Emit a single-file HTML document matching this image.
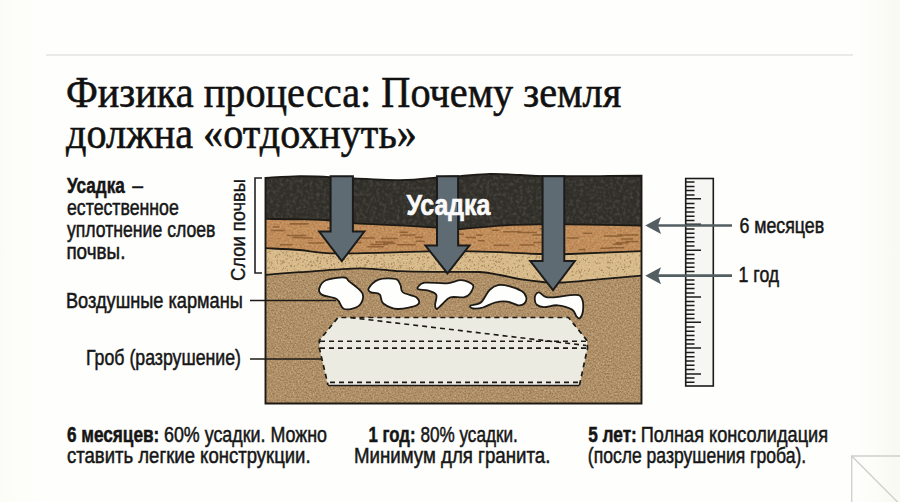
<!DOCTYPE html>
<html><head><meta charset="utf-8"><style>
html,body{margin:0;padding:0;width:900px;height:502px;overflow:hidden;background:#fcfcfa;}
svg{display:block;}
</style></head><body>
<svg width="900" height="502" viewBox="0 0 900 502">
<defs>
  <linearGradient id="bg" x1="0" y1="0" x2="1" y2="0">
    <stop offset="0" stop-color="#fcfcf7"/>
    <stop offset="0.05" stop-color="#fefefc"/>
    <stop offset="0.95" stop-color="#fefefc"/>
    <stop offset="1" stop-color="#f9f9f3"/>
  </linearGradient>
  <filter color-interpolation-filters="sRGB" id="texDark" x="0" y="0" width="100%" height="100%">
    <feTurbulence type="fractalNoise" baseFrequency="0.3" numOctaves="3" seed="3" result="n"/>
    <feColorMatrix in="n" type="matrix" values="0 0 0 0 0.38  0 0 0 0 0.37  0 0 0 0 0.33  1.2 0 0 0 -0.5" result="c"/>
    <feComposite in="c" in2="SourceGraphic" operator="in" result="t"/>
    <feMerge><feMergeNode in="SourceGraphic"/><feMergeNode in="t"/></feMerge>
  </filter>
  <filter color-interpolation-filters="sRGB" id="texBrown" x="0" y="0" width="100%" height="100%">
    <feTurbulence type="fractalNoise" baseFrequency="0.6" numOctaves="3" seed="7" result="n"/>
    <feColorMatrix in="n" type="matrix" values="1 0 0 0 0  1 0 0 0 0  1 0 0 0 0  0 0 0 0 0.4" result="g"/>
    <feBlend in="g" in2="SourceGraphic" mode="overlay" result="b"/>
    <feComposite in="b" in2="SourceGraphic" operator="in"/>
  </filter>
  <filter color-interpolation-filters="sRGB" id="texOrange" x="0" y="0" width="100%" height="100%">
    <feTurbulence type="fractalNoise" baseFrequency="0.5" numOctaves="2" seed="21" result="n"/>
    <feColorMatrix in="n" type="matrix" values="1 0 0 0 0  1 0 0 0 0  1 0 0 0 0  0 0 0 0 0.3" result="g"/>
    <feBlend in="g" in2="SourceGraphic" mode="overlay" result="b"/>
    <feComposite in="b" in2="SourceGraphic" operator="in"/>
  </filter>
  <filter color-interpolation-filters="sRGB" id="texSand" x="0" y="0" width="100%" height="100%">
    <feTurbulence type="fractalNoise" baseFrequency="0.6" numOctaves="2" seed="11" result="n"/>
    <feColorMatrix in="n" type="matrix" values="1 0 0 0 0  1 0 0 0 0  1 0 0 0 0  0 0 0 0 0.25" result="g"/>
    <feBlend in="g" in2="SourceGraphic" mode="overlay" result="b"/>
    <feComposite in="b" in2="SourceGraphic" operator="in"/>
  </filter>
</defs>
<rect width="900" height="502" fill="url(#bg)"/>
<line x1="46" y1="55" x2="853" y2="55" stroke="#d6d6d3" stroke-width="1.2"/>

<g transform="translate(244.7 281) rotate(-90)"><text x="0.0" y="0.0" font-family="Liberation Sans" font-size="20" font-weight="normal" fill="#161616" textLength="102.0" lengthAdjust="spacingAndGlyphs" stroke="#161616" stroke-width="0.35">Слои почвы</text></g>
<path d="M262,178 L255,178 L255,273 L262,273" fill="none" stroke="#222" stroke-width="1.6"/>
<g>
<path d="M265.5,262 L641.5,262 L641.5,403.5 L265.5,403.5 Z" fill="#ae8f67" filter="url(#texBrown)"/>
<path d="M265.5,248.2 C271.2,248.5 289.2,249.2 300.0,250.0 C310.8,250.8 313.3,252.9 330.0,253.3 C346.7,253.7 381.7,252.6 400.0,252.2 C418.3,251.8 430.0,251.3 440.0,251.1 C450.0,250.9 450.0,250.9 460.0,251.1 C470.0,251.3 486.5,251.7 500.0,252.2 C513.5,252.7 529.3,253.7 541.0,254.0 C552.7,254.3 553.2,254.5 570.0,254.0 C586.8,253.5 629.6,251.6 641.5,251.1 L641.5,275.6 C636.2,276.1 623.1,277.2 610.0,278.4 C596.9,279.5 574.2,281.9 563.0,282.5 C551.8,283.1 550.2,282.6 543.0,282.0 C535.8,281.4 527.2,280.4 520.0,279.2 C512.8,278.0 506.7,276.2 500.0,275.0 C493.3,273.8 490.0,272.5 480.0,272.0 C470.0,271.5 453.3,272.0 440.0,271.9 C426.7,271.8 413.3,271.8 400.0,271.2 C386.7,270.6 376.7,268.1 360.0,268.3 C343.3,268.5 315.8,271.1 300.0,272.2 C284.2,273.3 271.2,274.4 265.5,274.9 Z" fill="#d8bb8b" filter="url(#texSand)"/>
<path d="M265.5,218.9 C271.2,219.0 289.2,219.0 300.0,219.3 C310.8,219.6 320.8,219.8 330.0,220.5 C339.2,221.2 343.3,222.5 355.0,223.3 C366.7,224.1 385.8,224.6 400.0,225.3 C414.2,226.1 430.0,227.2 440.0,227.8 C450.0,228.4 450.0,229.4 460.0,229.0 C470.0,228.6 486.5,226.4 500.0,225.6 C513.5,224.8 529.3,224.6 541.0,224.4 C552.7,224.2 553.2,224.2 570.0,224.4 C586.8,224.6 629.6,225.4 641.5,225.6 L641.5,251.1 C629.6,251.6 586.8,253.5 570.0,254.0 C553.2,254.5 552.7,254.3 541.0,254.0 C529.3,253.7 513.5,252.7 500.0,252.2 C486.5,251.7 470.0,251.3 460.0,251.1 C450.0,250.9 450.0,250.9 440.0,251.1 C430.0,251.3 418.3,251.8 400.0,252.2 C381.7,252.6 346.7,253.7 330.0,253.3 C313.3,252.9 310.8,250.8 300.0,250.0 C289.2,249.2 271.2,248.5 265.5,248.2 Z" fill="#c08d5b" filter="url(#texOrange)"/>
<path d="M265.5,177.9 C271.2,177.6 289.2,176.2 300.0,176.1 C310.8,176.0 313.3,176.5 330.0,177.2 C346.7,177.9 381.7,180.1 400.0,180.1 C418.3,180.1 430.0,177.9 440.0,177.2 C450.0,176.5 451.7,176.6 460.0,176.1 C468.3,175.6 480.0,174.1 490.0,173.9 C500.0,173.7 510.8,174.6 520.0,175.0 C529.2,175.4 531.7,175.9 545.0,176.1 C558.3,176.3 583.9,176.2 600.0,176.1 C616.1,176.0 634.6,175.8 641.5,175.7 L641.5,225.6 C629.6,225.4 586.8,224.6 570.0,224.4 C553.2,224.2 552.7,224.2 541.0,224.4 C529.3,224.6 513.5,224.8 500.0,225.6 C486.5,226.4 470.0,228.6 460.0,229.0 C450.0,229.4 450.0,228.4 440.0,227.8 C430.0,227.2 414.2,226.1 400.0,225.3 C385.8,224.6 366.7,224.1 355.0,223.3 C343.3,222.5 339.2,221.2 330.0,220.5 C320.8,219.8 310.8,219.6 300.0,219.3 C289.2,219.0 271.2,219.0 265.5,218.9 Z" fill="#302e29" filter="url(#texDark)"/>
<path d="M494.2,245.2h14.6 M609.3,247.8h14.6 M280.4,244.7h11.1 M503.6,231.7h16.7 M438.9,240.6h8.2 M476.6,235.3h5.2 M370.6,244.6h16.9 M327.5,228.0h15.4 M492.3,230.3h6.6 M583.7,233.3h7.7 M623.7,234.9h14.3 M616.1,242.7h12.0 M343.7,242.6h17.2 M618.0,235.1h16.6 M400.0,232.2h7.2 M293.5,237.4h8.9 M271.2,230.6h13.8 M381.6,238.6h15.6 M383.7,243.3h11.3 M290.5,223.7h17.7 M539.9,228.8h16.0 M553.6,241.5h9.8 M273.3,227.1h5.6 M613.9,244.3h7.6 M604.7,236.1h17.2 M397.7,244.7h11.8 M308.9,243.0h14.7 M579.5,249.4h5.5 M302.8,238.0h9.4 M600.5,248.2h9.4 M466.3,237.5h9.1 M333.9,228.7h6.0 M518.1,232.5h18.0 M287.5,235.5h17.8 M416.1,241.3h8.1 M567.5,237.9h10.9 M290.1,223.9h16.9 M447.7,234.3h15.9 M533.4,242.5h17.3 M553.7,238.2h6.4 M323.7,231.7h16.0 M433.1,245.8h18.0 M621.4,238.9h10.9 M532.6,235.0h11.2 M415.4,237.2h6.9 M625.8,241.5h12.2 M449.8,233.8h9.4 M368.0,246.8h15.2 M400.1,244.7h15.2 M520.1,245.0h13.6 M400.8,234.9h14.2 M444.8,243.2h15.0 M375.8,242.1h17.3 M479.0,240.8h5.2 M360.2,237.9h13.7" stroke="#7e5128" stroke-width="1.5" stroke-linecap="round" opacity="0.7"/>
<path d="M571.6,271.5h1 M564.5,264.3h1 M507.2,269.5h1 M575.9,263.9h1 M581.4,276.2h1 M523.7,277.6h1 M623.8,264.9h1 M464.4,255.7h1 M579.1,278.1h1 M445.0,264.9h1 M535.4,273.0h1 M331.1,265.6h1 M483.7,265.1h1 M424.0,263.7h1 M556.0,271.6h1 M535.7,255.9h1 M326.7,260.8h1 M509.5,258.8h1 M522.9,269.4h1 M282.6,260.7h1 M351.4,255.2h1 M316.8,258.5h1 M334.7,257.4h1 M280.3,260.6h1 M408.9,263.5h1 M487.1,257.7h1 M603.9,254.1h1 M418.2,257.9h1 M419.9,255.1h1 M577.1,264.4h1 M280.5,263.8h1 M302.4,262.0h1 M393.6,262.8h1 M624.4,271.6h1 M423.3,266.9h1 M506.6,261.7h1 M320.0,263.1h1 M477.3,269.7h1 M628.1,266.6h1 M398.0,267.9h1 M267.4,252.3h1 M478.0,263.8h1 M319.5,263.6h1 M599.4,263.1h1 M428.0,256.8h1 M375.7,267.6h1 M408.7,269.2h1 M607.8,267.7h1 M363.9,266.8h1 M452.1,260.0h1 M386.0,268.5h1 M450.4,257.7h1 M444.9,254.8h1 M498.9,262.4h1 M376.3,264.9h1 M575.4,255.6h1 M465.6,257.6h1 M615.8,271.4h1 M358.6,257.7h1 M324.7,268.9h1 M376.4,262.5h1 M444.0,264.1h1 M492.2,267.5h1 M311.1,265.8h1 M379.2,261.6h1 M392.4,258.4h1 M464.6,261.0h1 M401.7,265.6h1 M487.4,254.0h1 M361.2,260.0h1 M608.9,274.4h1 M470.5,253.1h1 M557.3,266.3h1 M481.7,265.6h1 M502.8,263.6h1 M607.1,262.9h1 M413.2,267.5h1 M340.3,258.6h1 M576.6,256.9h1 M578.9,272.1h1 M428.4,257.9h1 M558.2,278.6h1 M320.2,261.2h1 M471.8,261.7h1 M390.4,256.2h1 M485.5,267.9h1 M292.5,255.8h1 M572.7,275.0h1 M514.5,254.9h1 M536.5,279.2h1 M639.4,267.8h1 M285.2,268.5h1 M348.8,262.9h1 M622.2,269.4h1 M317.2,258.1h1 M609.4,257.4h1 M494.8,261.5h1 M327.1,263.5h1 M283.2,252.9h1 M408.4,254.6h1 M288.5,262.8h1 M543.9,277.5h1 M317.1,260.4h1 M384.3,262.7h1 M449.6,269.3h1 M406.6,254.4h1 M527.1,258.5h1 M502.5,264.0h1 M606.6,266.9h1 M498.6,258.8h1 M472.8,257.4h1 M547.0,268.5h1 M316.9,257.2h1 M405.5,265.5h1 M333.9,264.6h1 M511.3,256.0h1 M516.1,256.5h1 M313.5,263.0h1 M356.0,265.5h1 M446.2,258.4h1 M564.1,256.2h1 M537.4,256.7h1 M323.2,268.5h1 M521.1,259.8h1 M310.3,269.6h1 M515.1,272.7h1 M319.1,263.5h1 M399.2,257.5h1 M391.3,263.2h1 M397.1,259.8h1 M317.9,266.8h1 M508.7,271.2h1 M428.7,267.6h1 M460.0,263.2h1 M480.8,266.1h1 M414.5,254.9h1 M279.4,254.9h1 M281.7,269.7h1 M446.4,266.1h1 M267.2,260.8h1 M598.9,268.9h1 M426.9,261.0h1 M304.2,254.8h1 M326.3,259.9h1 M410.9,267.9h1 M323.7,257.9h1 M370.5,256.3h1 M374.1,257.3h1 M446.8,253.2h1 M611.8,262.3h1 M616.9,269.2h1 M518.3,265.3h1 M619.6,256.1h1 M516.4,261.0h1 M518.6,271.2h1 M327.9,257.4h1 M276.3,255.4h1 M296.2,259.2h1 M630.2,261.1h1 M383.3,260.8h1 M372.6,264.1h1 M534.8,259.2h1 M356.7,262.9h1 M617.8,268.2h1 M427.6,269.8h1 M269.3,251.3h1 M557.7,265.9h1 M283.8,262.3h1 M636.1,264.1h1 M397.6,255.2h1 M293.6,269.2h1 M450.2,269.3h1 M287.1,255.9h1 M285.8,259.1h1 M289.4,256.2h1 M419.0,258.3h1 M286.2,251.6h1 M629.4,257.1h1 M456.7,259.8h1 M465.2,254.2h1 M384.1,255.5h1 M469.1,269.1h1 M490.2,269.4h1 M347.0,254.8h1 M468.3,261.4h1 M480.1,259.7h1 M500.2,268.1h1 M607.5,261.1h1 M434.5,267.3h1 M350.5,256.0h1 M383.3,255.2h1 M555.1,276.2h1 M383.7,255.8h1 M297.6,256.2h1 M298.5,259.7h1 M482.2,257.5h1 M289.9,265.3h1 M284.9,254.9h1 M373.7,259.2h1 M303.8,259.7h1 M384.1,264.9h1 M474.4,268.7h1 M511.0,270.6h1 M481.4,260.9h1 M571.7,271.7h1 M623.1,269.6h1 M528.5,261.3h1 M569.9,265.0h1 M315.6,254.3h1 M330.2,258.5h1 M519.1,261.1h1 M290.7,266.6h1 M474.8,253.5h1 M285.9,253.5h1 M400.2,267.5h1 M621.1,267.2h1 M353.2,259.9h1 M402.2,259.0h1 M271.6,263.4h1 M575.4,273.2h1 M302.5,261.7h1 M330.9,264.7h1 M433.4,269.2h1 M563.5,258.5h1 M385.3,267.4h1 M439.0,260.3h1 M431.7,266.2h1 M616.2,265.7h1 M628.7,266.3h1 M305.6,267.0h1 M423.5,253.9h1 M631.8,253.7h1 M482.2,261.7h1 M595.9,263.7h1 M347.4,258.2h1 M342.0,262.1h1 M400.2,265.7h1 M357.1,258.8h1 M359.6,266.6h1 M580.4,275.8h1 M497.6,261.5h1 M320.4,266.7h1 M449.8,253.3h1 M330.2,256.2h1 M534.7,277.1h1 M341.3,265.3h1 M387.9,264.1h1 M588.9,269.7h1 M565.5,265.0h1 M270.8,261.8h1 M485.8,256.6h1 M412.1,258.6h1 M277.1,257.2h1 M409.8,261.3h1 M529.3,264.5h1 M633.4,270.8h1 M611.6,269.7h1 M517.0,266.6h1 M564.9,264.7h1 M488.4,265.9h1 M461.8,257.7h1 M296.0,253.0h1 M399.7,263.0h1 M550.3,273.5h1 M381.4,267.3h1 M369.4,263.7h1 M293.9,266.2h1 M516.9,276.1h1 M601.6,270.3h1 M579.7,273.2h1 M494.9,257.6h1 M459.7,268.6h1 M356.2,266.7h1 M469.9,259.8h1 M268.1,259.0h1 M333.4,263.7h1 M602.5,275.5h1 M495.8,261.0h1 M307.6,264.6h1 M473.4,265.5h1 M406.5,268.0h1 M346.3,258.6h1 M366.8,262.4h1 M601.7,258.1h1 M503.0,269.4h1 M350.8,255.3h1 M478.1,267.5h1 M594.7,271.8h1 M422.5,260.3h1 M464.2,268.8h1 M379.8,258.0h1 M492.8,271.8h1 M336.8,255.1h1 M310.1,262.4h1 M492.1,256.9h1 M338.0,262.7h1 M508.1,268.6h1 M538.9,256.9h1 M447.8,267.5h1 M624.0,260.4h1 M584.2,270.6h1 M612.7,259.0h1 M526.9,274.8h1 M444.8,254.4h1 M339.2,256.8h1 M301.6,254.6h1 M496.7,255.6h1 M549.8,274.0h1 M571.5,275.4h1 M533.0,277.4h1 M623.9,267.3h1 M627.0,255.5h1 M305.4,253.3h1 M344.0,259.5h1 M438.1,264.7h1 M544.1,257.6h1 M417.4,262.3h1 M406.9,255.4h1 M489.7,260.4h1 M522.0,266.2h1 M626.1,274.2h1 M293.9,266.4h1 M536.0,262.5h1 M310.6,261.0h1 M399.1,265.5h1 M609.6,262.7h1 M375.4,261.0h1 M526.9,273.6h1 M481.7,258.4h1 M392.7,266.8h1 M460.7,253.5h1 M423.9,257.1h1 M515.5,256.0h1 M368.1,255.5h1 M445.1,270.1h1 M468.9,259.7h1 M615.3,255.8h1 M399.7,266.7h1 M268.9,267.7h1 M401.7,253.9h1 M360.6,260.1h1 M409.8,261.9h1 M286.8,255.4h1 M630.4,262.8h1 M443.0,254.1h1 M371.1,267.0h1 M523.3,266.6h1 M286.8,259.0h1 M557.4,266.5h1 M488.4,270.0h1 M507.6,267.4h1 M280.4,251.0h1 M554.0,265.9h1 M593.1,274.2h1 M608.4,262.7h1 M639.6,269.0h1 M599.6,257.8h1 M558.3,266.2h1 M629.6,275.0h1 M347.8,260.0h1 M368.0,260.4h1 M373.9,263.2h1 M313.0,255.8h1 M437.7,254.0h1 M409.2,268.2h1 M597.2,259.0h1 M273.9,268.9h1 M625.4,266.6h1 M317.9,257.3h1 M610.2,275.4h1 M278.6,254.4h1 M427.0,257.5h1 M548.2,264.9h1 M556.1,259.3h1 M460.3,270.0h1 M528.8,257.1h1 M308.4,263.8h1 M406.9,259.5h1 M445.2,263.0h1 M627.3,258.5h1 M479.1,257.7h1 M470.4,265.8h1 M316.8,261.2h1 M530.2,255.2h1 M554.6,266.1h1 M455.1,263.5h1 M562.7,256.9h1 M453.7,253.3h1 M410.8,259.1h1 M275.0,256.9h1 M434.9,264.2h1 M611.9,262.3h1 M464.7,265.4h1 M616.6,275.2h1 M635.5,259.4h1 M329.2,267.8h1 M295.9,260.1h1 M541.6,268.6h1 M412.0,268.7h1 M378.6,261.8h1 M576.5,258.6h1 M397.9,261.6h1 M478.1,256.7h1 M436.3,253.8h1 M299.8,258.1h1 M320.6,268.9h1 M365.2,257.8h1 M559.3,274.3h1 M364.8,264.9h1 M500.4,261.4h1 M501.5,258.7h1 M365.2,265.6h1 M430.6,268.5h1 M333.0,256.6h1 M286.4,266.3h1 M476.3,253.2h1 M283.1,268.3h1 M451.4,268.1h1 M281.8,263.3h1 M310.8,265.2h1 M495.0,265.3h1 M349.6,266.8h1 M308.4,253.6h1 M522.2,256.8h1 M291.9,260.4h1 M509.0,273.1h1 M535.9,257.0h1 M506.9,271.7h1 M312.0,265.7h1 M363.5,258.1h1 M267.6,267.6h1 M459.4,268.7h1 M440.6,255.4h1 M347.7,258.0h1 M620.1,258.1h1 M299.9,258.3h1 M296.5,259.7h1 M498.9,266.5h1 M332.2,256.7h1 M450.2,264.8h1 M433.8,262.8h1 M607.2,257.3h1 M366.9,260.7h1 M467.0,268.7h1 M474.1,264.6h1 M423.5,266.4h1 M578.8,262.3h1 M307.2,256.9h1 M400.4,267.9h1 M365.7,262.4h1 M506.0,273.8h1 M310.4,266.0h1 M392.5,255.4h1 M502.7,270.9h1 M484.3,254.2h1 M629.6,261.6h1 M504.3,268.7h1 M364.2,259.5h1 M389.8,255.3h1 M291.0,265.6h1 M420.1,267.8h1 M290.4,257.2h1 M334.2,267.7h1 M561.9,278.3h1 M455.9,254.5h1 M422.2,256.9h1 M277.0,262.8h1 M375.2,255.6h1 M457.8,269.3h1 M619.9,264.0h1 M305.3,266.1h1 M309.8,262.0h1 M298.2,270.6h1 M469.4,260.6h1 M368.5,261.5h1 M629.9,262.5h1 M345.1,261.4h1 M609.5,262.7h1 M503.4,272.6h1 M388.5,266.0h1 M464.3,255.2h1 M287.0,270.4h1 M440.8,260.5h1 M609.3,267.1h1 M453.6,257.7h1 M544.6,261.9h1 M442.5,266.1h1 M492.6,256.0h1 M342.6,263.9h1 M538.9,257.9h1 M639.1,255.6h1 M329.6,256.0h1 M433.5,263.6h1 M586.8,258.8h1 M527.6,257.4h1 M483.5,257.7h1 M399.9,254.5h1 M535.8,258.2h1 M552.0,264.0h1 M487.7,265.1h1 M449.3,268.2h1 M610.0,260.4h1 M391.5,267.2h1 M316.5,260.2h1 M421.7,269.7h1 M314.8,264.0h1 M549.4,273.8h1 M267.4,271.9h1 M383.5,266.4h1 M513.7,263.6h1 M579.5,271.6h1 M393.8,265.1h1 M455.4,265.3h1 M496.2,269.0h1 M326.4,261.6h1 M267.5,268.3h1 M554.8,276.7h1 M283.1,262.1h1 M445.5,254.7h1 M342.6,267.6h1 M585.0,260.7h1 M576.3,271.3h1 M410.6,264.0h1 M352.4,258.0h1 M270.8,265.1h1 M483.9,266.5h1 M454.9,260.4h1 M381.3,264.5h1 M406.1,263.2h1 M549.6,266.7h1 M522.9,256.1h1 M364.2,265.1h1 M322.0,254.8h1 M272.4,267.5h1 M306.7,260.5h1 M430.5,266.8h1 M444.8,261.9h1 M276.2,268.0h1 M553.2,271.2h1 M578.4,270.2h1 M534.1,275.8h1 M497.3,254.0h1 M596.9,277.8h1 M342.1,255.5h1 M393.8,255.3h1 M404.8,255.0h1 M349.1,254.5h1 M426.9,258.1h1 M538.8,265.0h1 M328.9,268.2h1 M600.6,270.4h1 M348.0,259.8h1 M435.2,259.9h1 M276.8,260.4h1 M553.3,273.0h1 M587.9,271.2h1 M551.5,277.5h1 M609.1,272.2h1 M422.2,264.3h1 M512.5,273.6h1 M533.2,265.9h1 M338.2,259.1h1 M360.4,262.8h1 M554.0,260.4h1 M466.0,267.6h1 M403.4,255.1h1 M492.9,260.4h1 M320.7,258.3h1 M269.6,253.4h1 M425.7,254.8h1 M269.2,262.7h1 M624.2,271.9h1 M388.7,267.7h1 M296.8,254.3h1 M269.5,251.3h1 M491.5,267.7h1 M445.2,266.9h1 M435.3,268.9h1 M493.8,263.8h1 M330.7,260.7h1 M431.2,267.2h1 M352.6,258.2h1 M571.6,257.2h1 M467.3,256.7h1 M515.1,267.6h1 M302.2,265.5h1 M418.9,258.6h1 M586.5,273.6h1 M382.5,263.8h1 M313.1,261.7h1 M297.8,263.9h1 M608.7,268.6h1 M282.2,261.6h1 M442.1,260.5h1 M323.4,258.3h1 M434.7,254.0h1 M518.5,260.1h1 M375.3,255.3h1 M379.9,267.3h1 M375.9,255.4h1 M396.0,268.5h1 M299.8,258.1h1 M345.0,263.6h1 M439.2,254.4h1 M588.6,262.6h1 M522.9,265.3h1 M592.2,256.0h1 M352.1,258.1h1 M365.6,264.9h1 M454.4,258.8h1 M456.1,267.7h1 M479.5,261.0h1 M512.0,267.6h1 M418.2,260.4h1 M316.1,260.5h1 M594.8,261.8h1 M403.2,263.4h1 M487.2,256.5h1 M433.3,265.6h1 M282.4,252.9h1 M548.8,278.3h1 M292.2,252.7h1 M500.7,259.4h1 M511.9,255.0h1 M437.3,255.5h1 M390.9,264.4h1 M457.2,267.8h1 M581.0,270.2h1 M583.1,259.3h1 M444.0,258.3h1 M500.1,255.9h1 M597.2,263.1h1 M559.3,279.5h1 M617.7,262.4h1 M586.6,278.9h1 M315.6,265.5h1 M538.3,266.6h1 M370.7,256.5h1 M420.6,268.9h1 M416.9,257.5h1 M498.1,262.2h1 M495.9,262.4h1 M373.8,254.6h1 M572.2,271.7h1 M357.9,260.6h1 M483.7,262.2h1 M603.0,272.3h1 M381.3,258.9h1 M495.2,256.7h1 M615.4,254.7h1" stroke="#8f7048" stroke-width="1.2" opacity="0.7"/>
<path d="M265.5,218.9 C271.2,219.0 289.2,219.0 300.0,219.3 C310.8,219.6 320.8,219.8 330.0,220.5 C339.2,221.2 343.3,222.5 355.0,223.3 C366.7,224.1 385.8,224.6 400.0,225.3 C414.2,226.1 430.0,227.2 440.0,227.8 C450.0,228.4 450.0,229.4 460.0,229.0 C470.0,228.6 486.5,226.4 500.0,225.6 C513.5,224.8 529.3,224.6 541.0,224.4 C552.7,224.2 553.2,224.2 570.0,224.4 C586.8,224.6 629.6,225.4 641.5,225.6 " fill="none" stroke="#1d1a15" stroke-width="1.8"/>
<path d="M265.5,248.2 C271.2,248.5 289.2,249.2 300.0,250.0 C310.8,250.8 313.3,252.9 330.0,253.3 C346.7,253.7 381.7,252.6 400.0,252.2 C418.3,251.8 430.0,251.3 440.0,251.1 C450.0,250.9 450.0,250.9 460.0,251.1 C470.0,251.3 486.5,251.7 500.0,252.2 C513.5,252.7 529.3,253.7 541.0,254.0 C552.7,254.3 553.2,254.5 570.0,254.0 C586.8,253.5 629.6,251.6 641.5,251.1 " fill="none" stroke="#1d1a15" stroke-width="1.8"/>
<path d="M265.5,274.9 C271.2,274.4 284.2,273.3 300.0,272.2 C315.8,271.1 343.3,268.5 360.0,268.3 C376.7,268.1 386.7,270.6 400.0,271.2 C413.3,271.8 426.7,271.8 440.0,271.9 C453.3,272.0 470.0,271.5 480.0,272.0 C490.0,272.5 493.3,273.8 500.0,275.0 C506.7,276.2 512.8,278.0 520.0,279.2 C527.2,280.4 535.8,281.4 543.0,282.0 C550.2,282.6 551.8,283.1 563.0,282.5 C574.2,281.9 596.9,279.5 610.0,278.4 C623.1,277.2 636.2,276.1 641.5,275.6 " fill="none" stroke="#1d1a15" stroke-width="1.8"/>
<path d="M265.5,177.9 C271.2,177.6 289.2,176.2 300.0,176.1 C310.8,176.0 313.3,176.5 330.0,177.2 C346.7,177.9 381.7,180.1 400.0,180.1 C418.3,180.1 430.0,177.9 440.0,177.2 C450.0,176.5 451.7,176.6 460.0,176.1 C468.3,175.6 480.0,174.1 490.0,173.9 C500.0,173.7 510.8,174.6 520.0,175.0 C529.2,175.4 531.7,175.9 545.0,176.1 C558.3,176.3 583.9,176.2 600.0,176.1 C616.1,176.0 634.6,175.8 641.5,175.7  L641.5,403.5 L265.5,403.5 Z" fill="none" stroke="#1d1a15" stroke-width="1.9" stroke-linejoin="miter"/>
</g>
<line x1="250" y1="300.5" x2="336" y2="300.5" stroke="#1d1a15" stroke-width="1.6"/>
<line x1="250" y1="359" x2="322" y2="359" stroke="#1d1a15" stroke-width="1.6"/>
<path d="M319.2,288.8 C319.8,286.4 321.7,282.1 325.9,280.2 C330.1,278.3 340.3,277.3 344.2,277.5 C348.1,277.7 346.0,278.7 349.1,281.4 C352.2,284.1 361.0,289.6 362.6,293.7 C364.2,297.8 362.0,303.3 358.9,305.9 C355.8,308.4 347.9,310.1 344.2,309.0 C340.5,307.9 340.6,301.6 336.9,299.2 C333.2,296.8 325.1,296.6 322.2,294.9 C319.2,293.2 318.6,291.2 319.2,288.8 Z" fill="#fefefd" stroke="#1d1a15" stroke-width="1.8"/>
<path d="M368.7,288.2 C369.9,286.1 374.0,281.1 378.5,279.6 C383.0,278.1 391.9,278.1 395.6,279.0 C399.3,279.9 399.3,282.9 400.5,285.1 C401.7,287.3 400.2,290.4 402.9,292.4 C405.5,294.4 413.9,295.2 416.4,297.3 C418.8,299.4 420.7,302.8 417.6,304.7 C414.5,306.6 403.7,309.2 398.0,309.0 C392.3,308.8 386.4,305.9 383.3,303.5 C380.2,301.1 381.7,296.2 379.7,294.3 C377.7,292.4 372.9,293.4 371.1,292.4 C369.3,291.4 367.5,290.3 368.7,288.2 Z" fill="#fefefd" stroke="#1d1a15" stroke-width="1.8"/>
<path d="M418.0,287.0 C419.0,285.9 419.9,283.3 424.7,282.7 C429.5,282.1 440.6,283.7 446.7,283.3 C452.8,282.9 456.9,279.9 461.3,280.2 C465.7,280.5 471.6,282.9 473.0,285.1 C474.4,287.4 471.4,291.7 469.9,293.7 C468.4,295.7 467.1,296.7 463.8,297.3 C460.5,297.9 453.8,296.3 450.3,297.3 C446.8,298.3 445.2,301.6 443.0,303.5 C440.8,305.4 438.2,308.8 436.9,309.0 C435.6,309.2 435.2,307.1 435.1,304.7 C435.0,302.3 437.4,297.2 436.3,294.9 C435.2,292.5 431.2,291.5 428.3,290.6 C425.4,289.7 420.3,290.0 418.6,289.4 C416.9,288.8 417.0,288.1 418.0,287.0 Z" fill="#fefefd" stroke="#1d1a15" stroke-width="1.8"/>
<path d="M470.5,305.5 C471.8,304.5 477.7,305.1 480.9,302.5 C484.1,299.9 486.6,292.9 489.5,290.0 C492.4,287.1 494.6,285.7 498.0,285.1 C501.4,284.5 505.8,285.3 509.8,286.3 C513.8,287.3 519.2,289.4 522.0,291.2 C524.8,293.0 525.9,295.2 526.3,297.3 C526.7,299.4 525.7,302.2 524.4,303.5 C523.1,304.8 521.1,305.6 518.3,305.3 C515.4,305.0 511.2,302.1 507.3,301.6 C503.4,301.1 499.1,301.5 495.0,302.5 C490.9,303.5 486.7,306.5 483.0,307.5 C479.3,308.5 475.1,308.8 473.0,308.5 C470.9,308.2 469.2,306.5 470.5,305.5 Z" fill="#fefefd" stroke="#1d1a15" stroke-width="1.8"/>
<path d="M534.8,299.8 C534.6,298.2 534.8,296.1 535.5,294.9 C536.2,293.7 537.5,292.1 539.1,292.4 C540.7,292.7 543.0,295.9 545.2,296.7 C547.5,297.5 547.5,297.6 552.6,297.3 C557.7,297.0 570.9,294.7 575.8,294.9 C580.7,295.1 580.7,296.2 581.9,298.6 C583.1,301.1 583.4,306.4 583.1,309.6 C582.8,312.9 581.1,317.0 580.0,318.1 C578.9,319.2 577.7,317.7 576.4,316.3 C575.1,314.9 575.2,311.4 572.1,309.6 C569.0,307.8 562.2,305.7 557.5,305.3 C552.8,304.9 547.5,307.2 544.0,307.1 C540.5,307.0 538.2,305.9 536.7,304.7 C535.2,303.5 535.0,301.4 534.8,299.8 Z" fill="#fefefd" stroke="#1d1a15" stroke-width="1.8"/>
<path d="M338,317.5 L568.5,317.5 L587,340.5 L587.5,348 L579.5,386 L328,386 L319.3,348 L319.3,340.5 Z" fill="#ecebe2"/>
<path d="M328,385.5 H579.5" stroke="#1d1a15" stroke-width="1.5"/>
<path d="M579.5,385 L587.5,348 L587,340.5 L568.5,317.5 L338,317.5 L319.3,340.5 L319.3,348 L328,385" fill="none" stroke="#1d1a15" stroke-width="1.7" stroke-dasharray="5 4"/>
<line x1="320" y1="341.3" x2="586.5" y2="341.3" stroke="#1d1a15" stroke-width="1.6" stroke-dasharray="5 4"/>
<line x1="320" y1="348.1" x2="587" y2="348.1" stroke="#1d1a15" stroke-width="1.6" stroke-dasharray="5 4"/>
<line x1="350.6" y1="317.6" x2="586.3" y2="345.5" stroke="#1d1a15" stroke-width="1.6" stroke-dasharray="5 4"/>
<line x1="330" y1="382.4" x2="579" y2="382.4" stroke="#1d1a15" stroke-width="1.6" stroke-dasharray="5 4"/>
<path d="M330.6,176.3 L330.6,231.5 L319.2,231.5 L341.8,261.2 L364.3,231.5 L352.9,231.5 L352.9,176.3 Z" fill="#5f6b73" stroke="#1b1b1b" stroke-width="2" stroke-linejoin="miter"/>
<path d="M437.0,176.3 L437.0,245.5 L425.4,245.5 L447.5,273.3 L469.4,245.5 L458.1,245.5 L458.1,176.3 Z" fill="#5f6b73" stroke="#1b1b1b" stroke-width="2" stroke-linejoin="miter"/>
<path d="M542.6,176.3 L542.6,261.0 L530.3,261.0 L553.0,290.0 L574.9,261.0 L564.3,261.0 L564.3,176.3 Z" fill="#5f6b73" stroke="#1b1b1b" stroke-width="2" stroke-linejoin="miter"/>
<rect x="685.7" y="178.5" width="27.6" height="207.5" fill="#f6f6f2" stroke="#1b1b1b" stroke-width="1.6"/>
<path d="M685.7,182.1H694.5 M685.7,186.4H694.5 M685.7,190.6H694.5 M685.7,194.9H694.5 M685.7,203.4H694.5 M685.7,207.7H694.5 M685.7,211.9H694.5 M685.7,216.2H694.5 M685.7,220.4H694.5 M685.7,229.0H694.5 M685.7,233.2H694.5 M685.7,237.5H694.5 M685.7,241.7H694.5 M685.7,246.0H694.5 M685.7,254.5H694.5 M685.7,258.8H694.5 M685.7,263.0H694.5 M685.7,267.3H694.5 M685.7,271.6H694.5 M685.7,280.1H694.5 M685.7,284.3H694.5 M685.7,288.6H694.5 M685.7,292.9H694.5 M685.7,301.4H694.5 M685.7,305.6H694.5 M685.7,309.9H694.5 M685.7,314.2H694.5 M685.7,318.4H694.5 M685.7,326.9H694.5 M685.7,331.2H694.5 M685.7,335.5H694.5 M685.7,339.7H694.5 M685.7,344.0H694.5 M685.7,352.5H694.5 M685.7,356.8H694.5 M685.7,361.0H694.5 M685.7,365.3H694.5 M685.7,369.5H694.5 M685.7,378.1H694.5 M685.7,382.3H694.5 M685.7,198.8H701 M685.7,224.3H701 M685.7,250.2H701 M685.7,275.7H701 M685.7,297.0H701 M685.7,322.3H701 M685.7,348.0H701 M685.7,373.9H701" stroke="#1b1b1b" stroke-width="1.5"/>
<line x1="655" y1="225.5" x2="732" y2="225.5" stroke="#535e62" stroke-width="2.7"/>
<path d="M645.3,225.5 L661,217.0 L658,225.5 L661,234.0 Z" fill="#535e62"/>
<line x1="655" y1="275.7" x2="732" y2="275.7" stroke="#535e62" stroke-width="2.7"/>
<path d="M645.3,275.7 L661,267.2 L658,275.7 L661,284.2 Z" fill="#535e62"/>
<text transform="translate(66.00 106.80) scale(1 1.087)" font-family="Liberation Serif" font-size="40" font-weight="normal" fill="#111111" stroke="#111111" stroke-width="0.55" textLength="555.20" lengthAdjust="spacingAndGlyphs">Физика процесса: Почему земля</text>
<text transform="translate(66.00 148.00) scale(1 1.087)" font-family="Liberation Serif" font-size="40" font-weight="normal" fill="#111111" stroke="#111111" stroke-width="0.55" textLength="350.80" lengthAdjust="spacingAndGlyphs">должна «отдохнуть»</text>
<text transform="translate(67.00 193.20) scale(1 1.040)" font-family="Liberation Sans" font-size="21" font-weight="bold" fill="#161616" stroke="#161616" stroke-width="0.50" textLength="57.80" lengthAdjust="spacingAndGlyphs">Усадка</text>
<text transform="translate(132.20 193.20) scale(1 1.040)" font-family="Liberation Sans" font-size="21" font-weight="normal" fill="#161616" stroke="#161616" stroke-width="0.50" textLength="10.80" lengthAdjust="spacingAndGlyphs">—</text>
<text transform="translate(67.00 214.90) scale(1 1.040)" font-family="Liberation Sans" font-size="21" font-weight="normal" fill="#161616" stroke="#161616" stroke-width="0.50" textLength="111.80" lengthAdjust="spacingAndGlyphs">естественное</text>
<text transform="translate(67.00 236.80) scale(1 1.040)" font-family="Liberation Sans" font-size="21" font-weight="normal" fill="#161616" stroke="#161616" stroke-width="0.50" textLength="148.40" lengthAdjust="spacingAndGlyphs">уплотнение слоев</text>
<text transform="translate(66.40 259.40) scale(1 1.040)" font-family="Liberation Sans" font-size="21" font-weight="normal" fill="#161616" stroke="#161616" stroke-width="0.50" textLength="59.00" lengthAdjust="spacingAndGlyphs">почвы.</text>
<text transform="translate(66.00 307.50) scale(1 1.040)" font-family="Liberation Sans" font-size="21" font-weight="normal" fill="#161616" stroke="#161616" stroke-width="0.50" textLength="176.80" lengthAdjust="spacingAndGlyphs">Воздушные карманы</text>
<text transform="translate(86.00 365.00) scale(1 1.040)" font-family="Liberation Sans" font-size="21" font-weight="normal" fill="#161616" stroke="#161616" stroke-width="0.50" textLength="155.00" lengthAdjust="spacingAndGlyphs">Гроб (разрушение)</text>
<text transform="translate(406.40 215.00) scale(1 1.000)" font-family="Liberation Sans" font-size="30" font-weight="bold" fill="#fafafa" stroke="#fafafa" stroke-width="0.70" textLength="84.00" lengthAdjust="spacingAndGlyphs">Усадка</text>
<text transform="translate(739.40 232.50) scale(1 1.040)" font-family="Liberation Sans" font-size="21" font-weight="normal" fill="#161616" stroke="#161616" stroke-width="0.50" textLength="84.80" lengthAdjust="spacingAndGlyphs">6 месяцев</text>
<text transform="translate(738.60 282.00) scale(1 1.040)" font-family="Liberation Sans" font-size="21" font-weight="normal" fill="#161616" stroke="#161616" stroke-width="0.50" textLength="40.60" lengthAdjust="spacingAndGlyphs">1 год</text>
<text transform="translate(67.00 442.20) scale(1 1.040)" font-family="Liberation Sans" font-size="21" font-weight="bold" fill="#161616" stroke="#161616" stroke-width="0.50" textLength="92.20" lengthAdjust="spacingAndGlyphs">6 месяцев:</text>
<text transform="translate(164.00 442.20) scale(1 1.040)" font-family="Liberation Sans" font-size="21" font-weight="normal" fill="#161616" stroke="#161616" stroke-width="0.50" textLength="163.00" lengthAdjust="spacingAndGlyphs">60% усадки. Можно</text>
<text transform="translate(67.00 463.30) scale(1 1.040)" font-family="Liberation Sans" font-size="21" font-weight="normal" fill="#161616" stroke="#161616" stroke-width="0.50" textLength="243.60" lengthAdjust="spacingAndGlyphs">ставить легкие конструкции.</text>
<text transform="translate(368.60 442.20) scale(1 1.040)" font-family="Liberation Sans" font-size="21" font-weight="bold" fill="#161616" stroke="#161616" stroke-width="0.50" textLength="47.00" lengthAdjust="spacingAndGlyphs">1 год:</text>
<text transform="translate(420.40 442.20) scale(1 1.040)" font-family="Liberation Sans" font-size="21" font-weight="normal" fill="#161616" stroke="#161616" stroke-width="0.50" textLength="97.40" lengthAdjust="spacingAndGlyphs">80% усадки.</text>
<text transform="translate(354.00 463.30) scale(1 1.040)" font-family="Liberation Sans" font-size="21" font-weight="normal" fill="#161616" stroke="#161616" stroke-width="0.50" textLength="196.40" lengthAdjust="spacingAndGlyphs">Минимум для гранита.</text>
<text transform="translate(588.20 442.20) scale(1 1.040)" font-family="Liberation Sans" font-size="21" font-weight="bold" fill="#161616" stroke="#161616" stroke-width="0.50" textLength="48.60" lengthAdjust="spacingAndGlyphs">5 лет:</text>
<text transform="translate(640.80 442.20) scale(1 1.040)" font-family="Liberation Sans" font-size="21" font-weight="normal" fill="#161616" stroke="#161616" stroke-width="0.50" textLength="187.20" lengthAdjust="spacingAndGlyphs">Полная консолидация</text>
<text transform="translate(587.80 463.30) scale(1 1.040)" font-family="Liberation Sans" font-size="21" font-weight="normal" fill="#161616" stroke="#161616" stroke-width="0.50" textLength="218.40" lengthAdjust="spacingAndGlyphs">(после разрушения гроба).</text>
<path d="M900,456 H851.7 V502 M851.7,456 L897.5,502" fill="none" stroke="#cfcfcb" stroke-width="1.3"/>
</svg>
</body></html>
